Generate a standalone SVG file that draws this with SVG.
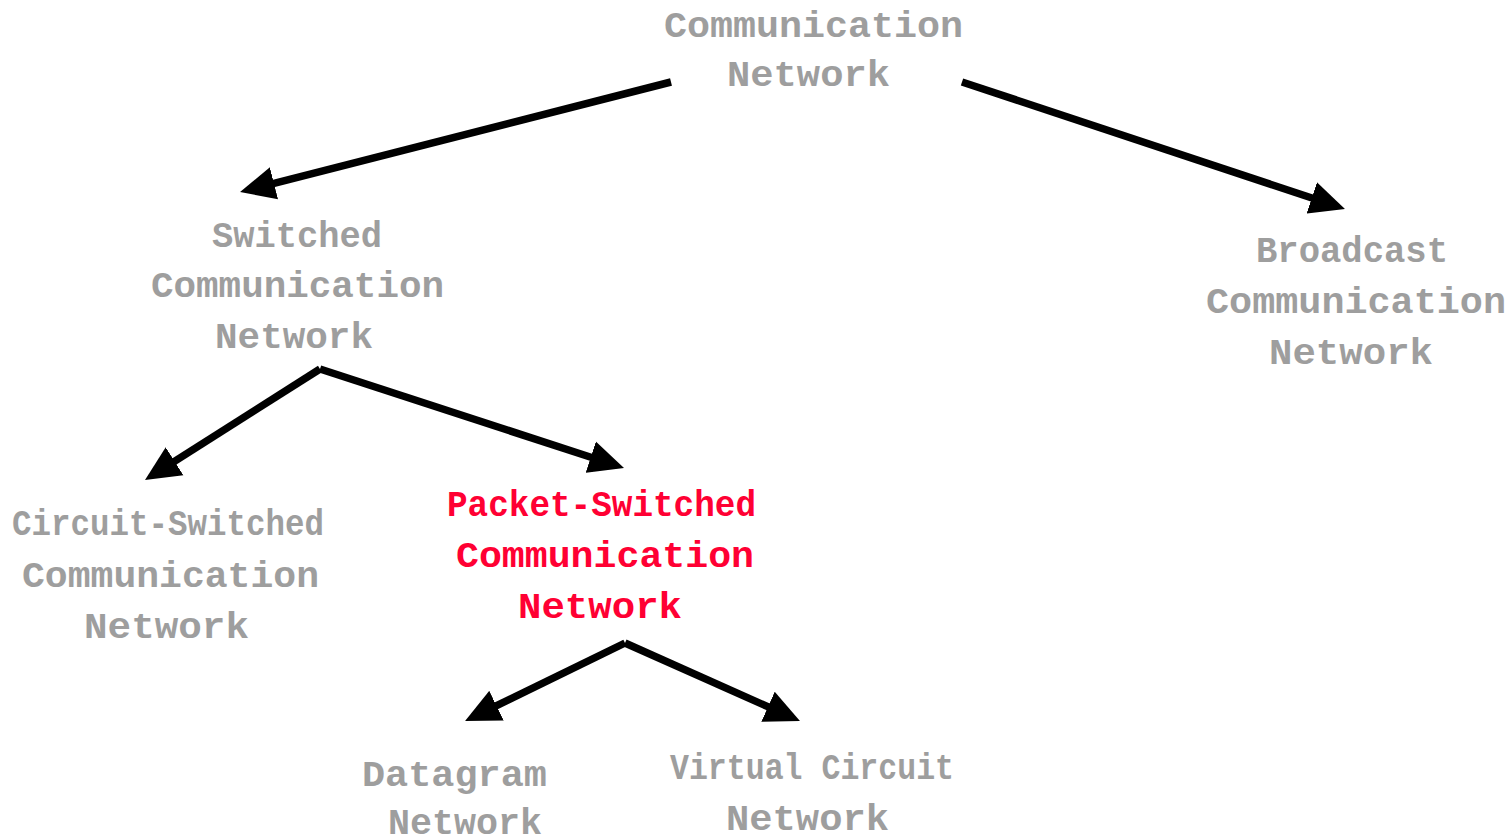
<svg xmlns="http://www.w3.org/2000/svg" width="1511" height="838" viewBox="0 0 1511 838">
<style>
text{font-family:"Liberation Mono","DejaVu Sans Mono",monospace;font-weight:bold;font-size:37px;fill:#9e9e9e}
.red text{fill:#ff0033}
.conn line{stroke:#000;stroke-width:7.5;marker-end:url(#ah)}
</style>
<defs>
<marker id="ah" markerUnits="userSpaceOnUse" viewBox="0 -17 36 34" markerWidth="36" markerHeight="34" refX="1" refY="0" orient="auto">
<path d="M0,-16.5 L35,0 L0,16.5 Z" fill="#000"/>
</marker>
</defs>
<rect width="1511" height="838" fill="#fff"/>
<g class="conn" id="connectors">
<line x1="671" y1="82" x2="273" y2="183.6"/>
<line x1="962" y1="82" x2="1312.7" y2="198.3"/>
<line x1="320" y1="369" x2="173.7" y2="461.8"/>
<line x1="320" y1="369" x2="591.7" y2="457.5"/>
<line x1="625" y1="643" x2="495.6" y2="706.1"/>
<line x1="625" y1="643" x2="768.9" y2="707.2"/>
</g>
<g id="n-comm">
<text x="664" y="37" textLength="299" lengthAdjust="spacingAndGlyphs">Communication</text>
<text x="727" y="86" textLength="163" lengthAdjust="spacingAndGlyphs">Network</text>
</g>
<g id="n-switched">
<text x="212" y="247" textLength="170" lengthAdjust="spacingAndGlyphs">Switched</text>
<text x="151" y="297" textLength="293" lengthAdjust="spacingAndGlyphs">Communication</text>
<text x="215" y="348" textLength="158" lengthAdjust="spacingAndGlyphs">Network</text>
</g>
<g id="n-broadcast">
<text x="1256" y="262" textLength="192" lengthAdjust="spacingAndGlyphs">Broadcast</text>
<text x="1206" y="313" textLength="300" lengthAdjust="spacingAndGlyphs">Communication</text>
<text x="1269" y="364" textLength="164" lengthAdjust="spacingAndGlyphs">Network</text>
</g>
<g id="n-circuit">
<text x="12" y="535" textLength="312" lengthAdjust="spacingAndGlyphs">Circuit-Switched</text>
<text x="22" y="587" textLength="297" lengthAdjust="spacingAndGlyphs">Communication</text>
<text x="84" y="638" textLength="165" lengthAdjust="spacingAndGlyphs">Network</text>
</g>
<g id="n-packet" class="red">
<text x="447" y="516" textLength="309" lengthAdjust="spacingAndGlyphs">Packet-Switched</text>
<text x="456" y="567" textLength="298" lengthAdjust="spacingAndGlyphs">Communication</text>
<text x="518" y="618" textLength="164" lengthAdjust="spacingAndGlyphs">Network</text>
</g>
<g id="n-datagram">
<text x="362" y="786" textLength="185" lengthAdjust="spacingAndGlyphs">Datagram</text>
<text x="388" y="834" textLength="154" lengthAdjust="spacingAndGlyphs">Network</text>
</g>
<g id="n-virtual">
<text x="670" y="779" textLength="284" lengthAdjust="spacingAndGlyphs">Virtual Circuit</text>
<text x="726" y="830" textLength="163" lengthAdjust="spacingAndGlyphs">Network</text>
</g>
</svg>
